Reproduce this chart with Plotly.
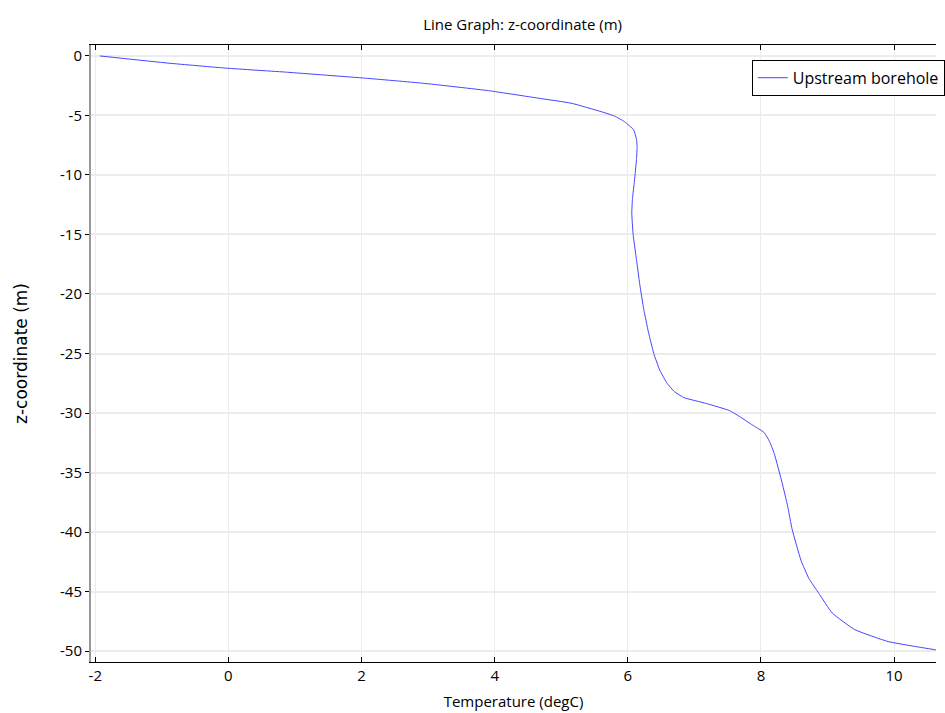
import plotly.graph_objects as go

# Data
temperature = [-1.93, -0.89, -0.02, 0.89, 2.06, 2.92, 3.91, 4.66, 5.15, 5.60, 5.80, 5.95,
               6.09, 6.13, 6.14, 6.13, 6.10, 6.07, 6.06, 6.08, 6.13, 6.18, 6.24, 6.31,
               6.39, 6.48, 6.59, 6.70, 6.84, 7.18, 7.53, 7.68, 7.87, 8.05, 8.13, 8.20,
               8.32, 8.40, 8.47, 8.60, 8.72, 8.87, 9.07, 9.41, 9.91, 10.30, 10.63, 10.75]
z_coord = [0.0, -0.61, -1.03, -1.37, -1.87, -2.29, -2.92, -3.55, -3.97, -4.68, -5.05, -5.52,
           -6.22, -7.0, -7.6, -8.7, -10.5, -12.0, -13.2, -15.0, -17.1, -19.2, -21.3, -23.2,
           -25.0, -26.4, -27.5, -28.2, -28.7, -29.2, -29.8, -30.3, -31.0, -31.65, -32.4, -33.4,
           -35.9, -37.8, -39.8, -42.35, -43.9, -45.15, -46.8, -48.2, -49.2, -49.6, -49.9, -50.0]
series_name = "Upstream borehole"

x_tickvals = [-2, 0, 2, 4, 6, 8, 10]
x_ticktext = ["-2", "0", "2", "4", "6", "8", "10"]
y_tickvals = [0, -5, -10, -15, -20, -25, -30, -35, -40, -45, -50]
y_ticktext = ["0", "-5", "-10", "-15", "-20", "-25", "-30", "-35", "-40", "-45", "-50"]

base_font = "Open Sans, Noto Sans, sans-serif"
tick_font = dict(family=base_font, size=15, color="black")

fig = go.Figure()
fig.add_trace(go.Scatter(
    x=temperature, y=z_coord, mode="lines", name=series_name,
    line=dict(color="rgb(70,70,255)", width=1, shape="spline", smoothing=0.4),
    showlegend=True,
))

fig.update_layout(
    width=945, height=713,
    margin=dict(l=91, r=0, t=45, b=51),
    paper_bgcolor="white", plot_bgcolor="white",
    title=dict(text="Line Graph: z-coordinate (m)", x=0.553, xanchor="center",
               y=1 - 25 / 713, yanchor="middle",
               font=dict(family=base_font, size=15, color="black")),
    showlegend=True,
    legend=dict(x=0.782, xanchor="left", y=0.976, yanchor="top",
                bgcolor="white", bordercolor="black", borderwidth=1,
                font=dict(family=base_font, size=16, color="black"),
                itemwidth=30, tracegroupgap=0),
)

fig.update_xaxes(
    range=[-2.064, 10.63], tickvals=x_tickvals, ticktext=x_ticktext,
    ticks="inside", ticklen=5, tickcolor="black",
    showline=True, linecolor="black", linewidth=1, mirror="ticks",
    showgrid=True, gridcolor="#ececec", gridwidth=1, zeroline=False,
    tickfont=tick_font,
    title=dict(text="Temperature (degC)", standoff=12,
               font=dict(family=base_font, size=15, color="black")),
)
fig.update_yaxes(
    range=[-50.92, 0.92], tickvals=y_tickvals, ticktext=y_ticktext,
    ticks="outside", ticklen=4, tickcolor="black",
    showline=True, linecolor="#999999", linewidth=2, mirror=False,
    showgrid=True, gridcolor="#ececec", gridwidth=2, zeroline=False,
    tickfont=tick_font,
    title=dict(text="z-coordinate (m)", standoff=28,
               font=dict(family="DejaVu Sans, Verdana, sans-serif", size=17, color="black")),
)

fig.write_html("out.html", config={"displayModeBar": False},
               post_script="document.body.style.margin='0';document.body.style.overflow='hidden';")
